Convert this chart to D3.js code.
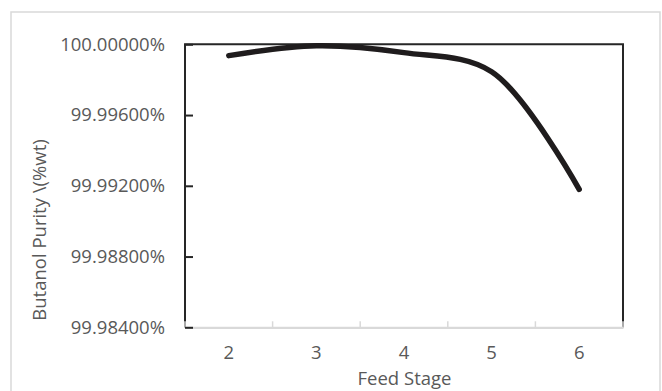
<!DOCTYPE html>
<html>
<head>
<meta charset="utf-8">
<script src="https://cdn.jsdelivr.net/npm/d3@7"></script>
<style>
  html, body { margin: 0; padding: 0; background: #fff; }
  svg { display: block; }
  text { font-family: "Open Sans", "Noto Sans", sans-serif; fill: #595959; }
</style>
</head>
<body>
<div id="chart"></div>
<script>
// Feed stage vs. butanol purity (wt %)
const feedStages = ["2", "3", "4", "5", "6"];
const purity = [99.99936, 99.99992, 99.99953, 99.99845, 99.99180];
const yTicks = [99.984, 99.988, 99.992, 99.996, 100.0];
const yTitle = "Butanol Purity \\(%wt)";
const xTitle = "Feed Stage";

const W = 662, H = 391;
const FS = 18.5;
const plot = { left: 185, right: 623, top: 44.3, bottom: 327.3 };

const svg = d3.select("#chart").append("svg")
  .attr("width", W).attr("height", H);

// outer chart border
svg.append("rect")
  .attr("x", 11).attr("y", 12)
  .attr("width", 649).attr("height", 400)
  .attr("fill", "none").attr("stroke", "#d9d9d9").attr("stroke-width", 1.5);

const x = d3.scaleBand().domain(feedStages).range([plot.left, plot.right]).padding(0);
const y = d3.scaleLinear().domain([99.984, 100.0]).range([plot.bottom, plot.top]);

// plot-area frame (left, top, right)
svg.append("path")
  .attr("d", `M${plot.left},${plot.bottom} V${plot.top} H${plot.right} V${plot.bottom}`)
  .attr("fill", "none").attr("stroke", "#262626").attr("stroke-width", 2);

// category axis along the bottom
const xAxis = d3.axisBottom(x).tickSize(0).tickPadding(18.5);
const gx = svg.append("g")
  .attr("transform", `translate(0,${plot.bottom})`)
  .call(xAxis);
gx.select(".domain").attr("stroke", "#d9d9d9").attr("stroke-width", 2.2);
gx.selectAll(".tick text")
  .attr("font-size", FS).attr("fill", "#595959")
  .style("font-family", "'Open Sans', sans-serif");

// category boundary tick marks
const bounds = feedStages.map(d => x(d)).concat([x(feedStages[feedStages.length - 1]) + x.bandwidth()]);
svg.append("g").selectAll("line").data(bounds).join("line")
  .attr("x1", d => d).attr("x2", d => d)
  .attr("y1", plot.bottom - 6).attr("y2", plot.bottom)
  .attr("stroke", "#d9d9d9").attr("stroke-width", 1.5);

// value axis
const yAxis = d3.axisLeft(y).tickValues(yTicks)
  .tickFormat(d => d.toFixed(5) + "%")
  .tickSize(-8).tickPadding(20);
const gy = svg.append("g")
  .attr("transform", `translate(${plot.left},0)`)
  .call(yAxis);
gy.select(".domain").remove();
gy.selectAll(".tick line").attr("stroke", "#262626").attr("stroke-width", 2);
gy.selectAll(".tick text")
  .attr("font-size", FS).attr("fill", "#595959")
  .style("font-family", "'Open Sans', sans-serif");

// purity line, smoothed
const line = d3.line()
  .x((d, i) => x(feedStages[i]) + x.bandwidth() / 2)
  .y(d => y(d))
  .curve(d3.curveCatmullRom.alpha(0.5));
svg.append("path")
  .datum(purity)
  .attr("d", line)
  .attr("fill", "none")
  .attr("stroke", "#1f1c1d")
  .attr("stroke-width", 5.5)
  .attr("stroke-linecap", "round")
  .attr("stroke-linejoin", "round");

// axis titles
svg.append("text")
  .attr("transform", "translate(46,230) rotate(-90)")
  .attr("text-anchor", "middle")
  .attr("font-size", FS)
  .text(yTitle);

svg.append("text")
  .attr("x", 404.5).attr("y", 385)
  .attr("text-anchor", "middle")
  .attr("font-size", FS)
  .text(xTitle);
</script>
</body>
</html>
